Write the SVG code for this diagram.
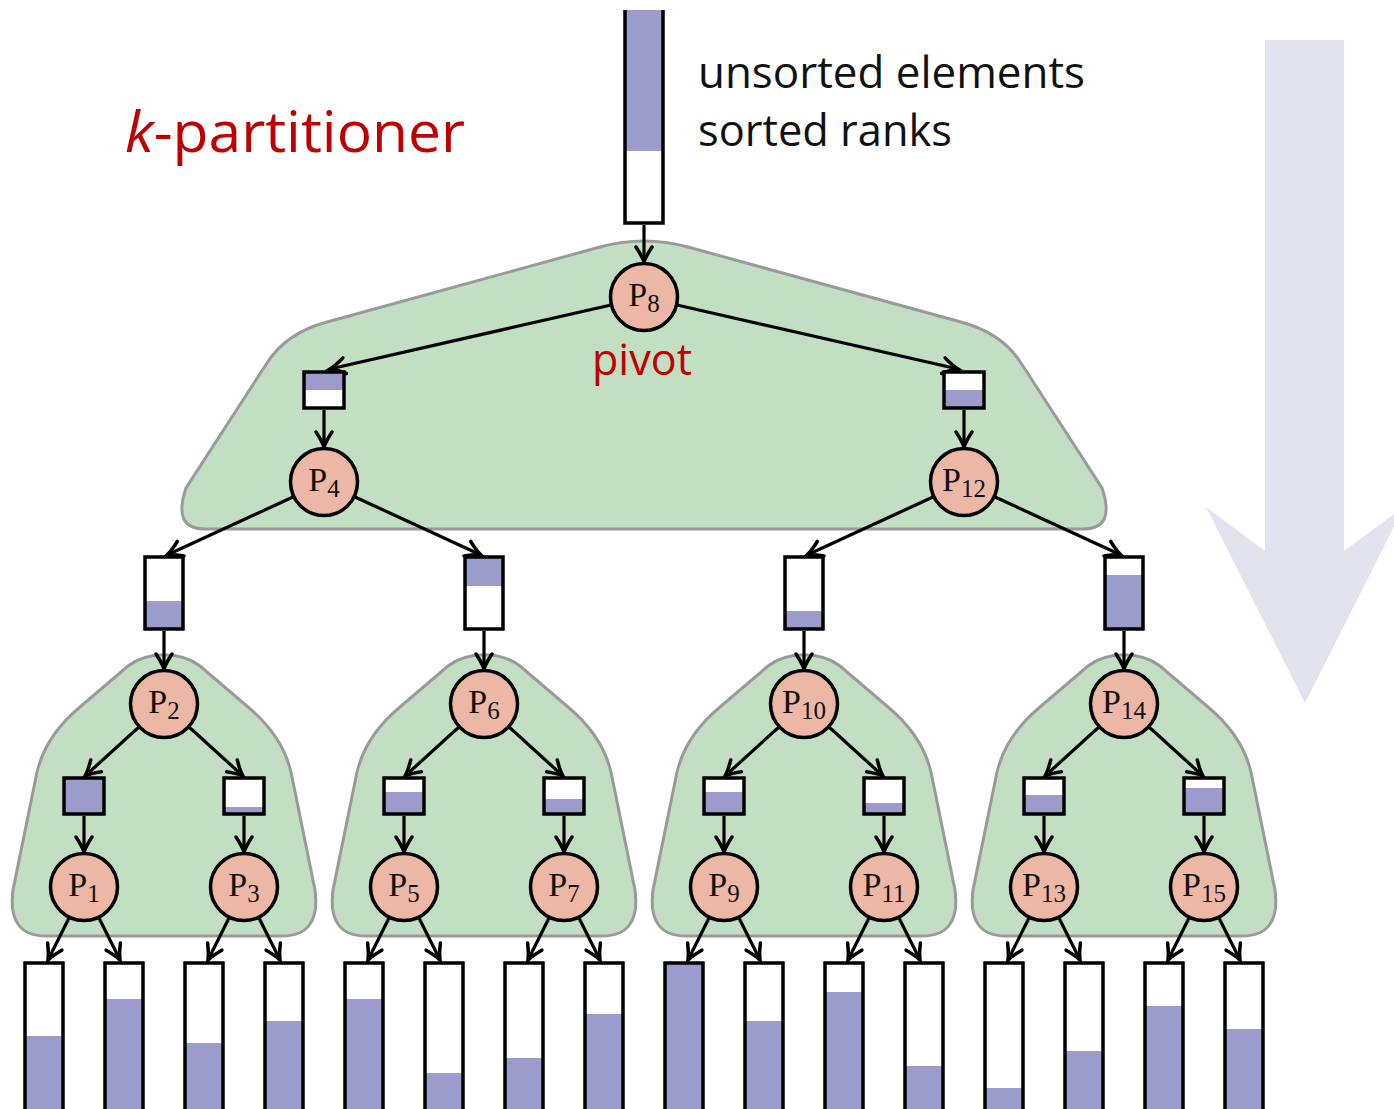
<svg xmlns="http://www.w3.org/2000/svg" xmlns:xlink="http://www.w3.org/1999/xlink" width="1394" height="1109" viewBox="0 0 1394 1109">
<defs>
<style>
.hull{fill:#c3dfc3;stroke:#9a9a9a;stroke-width:3}
.edge{stroke:#000;stroke-width:3.2;fill:none;marker-end:url(#ah)}
.nd{fill:#ecb8a5;stroke:#000;stroke-width:3.5}
.lbl{font-family:"Liberation Serif","DejaVu Serif",serif;font-size:34px;text-anchor:middle;fill:#111}
.sub{font-size:25px}
.bw{fill:#fff}
.pf{fill:#9b9bcc}
.bo{fill:none;stroke:#000;stroke-width:3.5}
.txt{font-family:"Open Sans","Liberation Sans",sans-serif;fill:#111}
.red{font-family:"Open Sans","Liberation Sans",sans-serif;fill:#c00000}
</style>
<marker id="ah" markerUnits="userSpaceOnUse" markerWidth="20" markerHeight="20" refX="0" refY="0" orient="auto" overflow="visible">
<path d="M-15,-8 Q-6,-2 0,0 Q-6,2 -15,8" fill="none" stroke="#000" stroke-width="3.5" stroke-linecap="round" stroke-linejoin="miter"/>
</marker>
<path id="lowhull" class="hull" d="M-36,666 C-16,651 16,651 36,666 L84,707 Q121,738 128,777 L151,890 Q157,936 118,936 L-118,936 Q-157,936 -151,890 L-128,777 Q-121,738 -84,707 Z"/>
</defs>

<rect width="1394" height="1109" fill="#fff"/>

<path id="flow-arrow" d="M1265,40 H1344 V551 L1404,507 L1305,703 L1206,507 L1265,551 Z" fill="#e3e3f0"/>

<text class="red" x="125" y="152" font-size="56" textLength="340" lengthAdjust="spacingAndGlyphs"><tspan font-style="italic">k</tspan>-partitioner</text>
<text class="txt" x="698" y="88" font-size="43" textLength="387" lengthAdjust="spacingAndGlyphs">unsorted elements</text>
<text class="txt" x="698" y="146" font-size="43" textLength="254" lengthAdjust="spacingAndGlyphs">sorted ranks</text>

<g id="hulls">
<path id="hull-top" class="hull" d="M205,529 L1083,529 Q1116,529 1102,488 L1021,363 Q1002,333 961,322 L688,247 Q644,235 600,247 L327,322 Q286,333 267,363 L186,488 Q172,529 205,529 Z"/>
<use xlink:href="#lowhull" href="#lowhull" transform="translate(164,0)"/>
<use xlink:href="#lowhull" href="#lowhull" transform="translate(484,0)"/>
<use xlink:href="#lowhull" href="#lowhull" transform="translate(804,0)"/>
<use xlink:href="#lowhull" href="#lowhull" transform="translate(1124,0)"/>
</g>

<text class="red" x="592" y="375" font-size="43" textLength="100" lengthAdjust="spacingAndGlyphs">pivot</text>

<g id="connectors">
<path class="edge" d="M644,225 L644,262"/>
<path class="edge" d="M611,305 L330,369"/>
<path class="edge" d="M677,305 L958,369"/>
<path class="edge" d="M324,410 L324,447"/>
<path class="edge" d="M964,410 L964,447"/>
<path class="edge" d="M293,497 L167,555"/>
<path class="edge" d="M355,497 L481,555"/>
<path class="edge" d="M933,497 L807,555"/>
<path class="edge" d="M995,497 L1121,555"/>
<path class="edge" d="M164,631 L164,669"/>
<path class="edge" d="M484,631 L484,669"/>
<path class="edge" d="M804,631 L804,669"/>
<path class="edge" d="M1124,631 L1124,669"/>
<path class="edge" d="M139,727 L85,776"/>
<path class="edge" d="M189,727 L243,776"/>
<path class="edge" d="M459,727 L405,776"/>
<path class="edge" d="M509,727 L563,776"/>
<path class="edge" d="M779,727 L725,776"/>
<path class="edge" d="M829,727 L883,776"/>
<path class="edge" d="M1099,727 L1045,776"/>
<path class="edge" d="M1149,727 L1203,776"/>
<path class="edge" d="M84,816 L84,852"/>
<path class="edge" d="M244,816 L244,852"/>
<path class="edge" d="M404,816 L404,852"/>
<path class="edge" d="M564,816 L564,852"/>
<path class="edge" d="M724,816 L724,852"/>
<path class="edge" d="M884,816 L884,852"/>
<path class="edge" d="M1044,816 L1044,852"/>
<path class="edge" d="M1204,816 L1204,852"/>
<path class="edge" d="M69,918 L48,960"/>
<path class="edge" d="M99,918 L120,960"/>
<path class="edge" d="M229,918 L208,960"/>
<path class="edge" d="M259,918 L280,960"/>
<path class="edge" d="M389,918 L368,960"/>
<path class="edge" d="M419,918 L440,960"/>
<path class="edge" d="M549,918 L528,960"/>
<path class="edge" d="M579,918 L600,960"/>
<path class="edge" d="M709,918 L688,960"/>
<path class="edge" d="M739,918 L760,960"/>
<path class="edge" d="M869,918 L848,960"/>
<path class="edge" d="M899,918 L920,960"/>
<path class="edge" d="M1029,918 L1008,960"/>
<path class="edge" d="M1059,918 L1080,960"/>
<path class="edge" d="M1189,918 L1168,960"/>
<path class="edge" d="M1219,918 L1240,960"/>
</g>

<g id="input-bar">
<rect class="bw" x="625" y="10" width="38" height="213"/>
<rect class="pf" x="625" y="10" width="38" height="141"/>
<path class="bo" d="M625,10 V223 H663 V10"/>
</g>

<g id="box-L">
<rect class="bw" x="304" y="372" width="40" height="36"/>
<rect class="pf" x="304" y="372" width="40" height="18"/>
<rect class="bo" x="304" y="372" width="40" height="36"/>
</g>
<g id="box-R">
<rect class="bw" x="944" y="372" width="40" height="36"/>
<rect class="pf" x="944" y="390" width="40" height="18"/>
<rect class="bo" x="944" y="372" width="40" height="36"/>
</g>

<g id="bar-LL">
<rect class="bw" x="145" y="557" width="38" height="72"/>
<rect class="pf" x="145" y="601" width="38" height="28"/>
<rect class="bo" x="145" y="557" width="38" height="72"/>
</g>
<g id="bar-LR">
<rect class="bw" x="465" y="557" width="38" height="72"/>
<rect class="pf" x="465" y="557" width="38" height="29"/>
<rect class="bo" x="465" y="557" width="38" height="72"/>
</g>
<g id="bar-RL">
<rect class="bw" x="785" y="557" width="38" height="72"/>
<rect class="pf" x="785" y="611" width="38" height="18"/>
<rect class="bo" x="785" y="557" width="38" height="72"/>
</g>
<g id="bar-RR">
<rect class="bw" x="1105" y="557" width="38" height="72"/>
<rect class="pf" x="1105" y="575" width="38" height="54"/>
<rect class="bo" x="1105" y="557" width="38" height="72"/>
</g>

<g id="box-1"><rect class="bw" x="64" y="778" width="40" height="36"/><rect class="pf" x="64" y="778" width="40" height="36"/><rect class="bo" x="64" y="778" width="40" height="36"/></g>
<g id="box-3"><rect class="bw" x="224" y="778" width="40" height="36"/><rect class="pf" x="224" y="807" width="40" height="7"/><rect class="bo" x="224" y="778" width="40" height="36"/></g>
<g id="box-5"><rect class="bw" x="384" y="778" width="40" height="36"/><rect class="pf" x="384" y="792" width="40" height="22"/><rect class="bo" x="384" y="778" width="40" height="36"/></g>
<g id="box-7"><rect class="bw" x="544" y="778" width="40" height="36"/><rect class="pf" x="544" y="799" width="40" height="15"/><rect class="bo" x="544" y="778" width="40" height="36"/></g>
<g id="box-9"><rect class="bw" x="704" y="778" width="40" height="36"/><rect class="pf" x="704" y="792" width="40" height="22"/><rect class="bo" x="704" y="778" width="40" height="36"/></g>
<g id="box-11"><rect class="bw" x="864" y="778" width="40" height="36"/><rect class="pf" x="864" y="803" width="40" height="11"/><rect class="bo" x="864" y="778" width="40" height="36"/></g>
<g id="box-13"><rect class="bw" x="1024" y="778" width="40" height="36"/><rect class="pf" x="1024" y="795" width="40" height="19"/><rect class="bo" x="1024" y="778" width="40" height="36"/></g>
<g id="box-15"><rect class="bw" x="1184" y="778" width="40" height="36"/><rect class="pf" x="1184" y="788" width="40" height="26"/><rect class="bo" x="1184" y="778" width="40" height="36"/></g>

<g id="out-bars">
<g id="out-1"><rect class="bw" x="25" y="963" width="38" height="160"/><rect class="pf" x="25" y="1036" width="38" height="90"/><rect class="bo" x="25" y="963" width="38" height="160"/></g>
<g id="out-2"><rect class="bw" x="105" y="963" width="38" height="160"/><rect class="pf" x="105" y="999" width="38" height="130"/><rect class="bo" x="105" y="963" width="38" height="160"/></g>
<g id="out-3"><rect class="bw" x="185" y="963" width="38" height="160"/><rect class="pf" x="185" y="1043" width="38" height="80"/><rect class="bo" x="185" y="963" width="38" height="160"/></g>
<g id="out-4"><rect class="bw" x="265" y="963" width="38" height="160"/><rect class="pf" x="265" y="1021" width="38" height="100"/><rect class="bo" x="265" y="963" width="38" height="160"/></g>
<g id="out-5"><rect class="bw" x="345" y="963" width="38" height="160"/><rect class="pf" x="345" y="999" width="38" height="130"/><rect class="bo" x="345" y="963" width="38" height="160"/></g>
<g id="out-6"><rect class="bw" x="425" y="963" width="38" height="160"/><rect class="pf" x="425" y="1073" width="38" height="50"/><rect class="bo" x="425" y="963" width="38" height="160"/></g>
<g id="out-7"><rect class="bw" x="505" y="963" width="38" height="160"/><rect class="pf" x="505" y="1058" width="38" height="65"/><rect class="bo" x="505" y="963" width="38" height="160"/></g>
<g id="out-8"><rect class="bw" x="585" y="963" width="38" height="160"/><rect class="pf" x="585" y="1014" width="38" height="110"/><rect class="bo" x="585" y="963" width="38" height="160"/></g>
<g id="out-9"><rect class="bw" x="665" y="963" width="38" height="160"/><rect class="pf" x="665" y="963" width="38" height="160"/><rect class="bo" x="665" y="963" width="38" height="160"/></g>
<g id="out-10"><rect class="bw" x="745" y="963" width="38" height="160"/><rect class="pf" x="745" y="1021" width="38" height="100"/><rect class="bo" x="745" y="963" width="38" height="160"/></g>
<g id="out-11"><rect class="bw" x="825" y="963" width="38" height="160"/><rect class="pf" x="825" y="992" width="38" height="130"/><rect class="bo" x="825" y="963" width="38" height="160"/></g>
<g id="out-12"><rect class="bw" x="905" y="963" width="38" height="160"/><rect class="pf" x="905" y="1066" width="38" height="60"/><rect class="bo" x="905" y="963" width="38" height="160"/></g>
<g id="out-13"><rect class="bw" x="985" y="963" width="38" height="160"/><rect class="pf" x="985" y="1088" width="38" height="40"/><rect class="bo" x="985" y="963" width="38" height="160"/></g>
<g id="out-14"><rect class="bw" x="1065" y="963" width="38" height="160"/><rect class="pf" x="1065" y="1051" width="38" height="75"/><rect class="bo" x="1065" y="963" width="38" height="160"/></g>
<g id="out-15"><rect class="bw" x="1145" y="963" width="38" height="160"/><rect class="pf" x="1145" y="1006" width="38" height="120"/><rect class="bo" x="1145" y="963" width="38" height="160"/></g>
<g id="out-16"><rect class="bw" x="1225" y="963" width="38" height="160"/><rect class="pf" x="1225" y="1029" width="38" height="95"/><rect class="bo" x="1225" y="963" width="38" height="160"/></g>
</g>

<g id="P8"><circle class="nd" cx="644" cy="297" r="33.5"/><text class="lbl" x="644" y="306">P<tspan class="sub" dy="6">8</tspan></text></g>
<g id="P4"><circle class="nd" cx="324" cy="482" r="33.5"/><text class="lbl" x="324" y="491">P<tspan class="sub" dy="6">4</tspan></text></g>
<g id="P12"><circle class="nd" cx="964" cy="482" r="33.5"/><text class="lbl" x="964" y="491">P<tspan class="sub" dy="6">12</tspan></text></g>
<g id="P2"><circle class="nd" cx="164" cy="704" r="33.5"/><text class="lbl" x="164" y="713">P<tspan class="sub" dy="6">2</tspan></text></g>
<g id="P6"><circle class="nd" cx="484" cy="704" r="33.5"/><text class="lbl" x="484" y="713">P<tspan class="sub" dy="6">6</tspan></text></g>
<g id="P10"><circle class="nd" cx="804" cy="704" r="33.5"/><text class="lbl" x="804" y="713">P<tspan class="sub" dy="6">10</tspan></text></g>
<g id="P14"><circle class="nd" cx="1124" cy="704" r="33.5"/><text class="lbl" x="1124" y="713">P<tspan class="sub" dy="6">14</tspan></text></g>
<g id="P1"><circle class="nd" cx="84" cy="887" r="33.5"/><text class="lbl" x="84" y="896">P<tspan class="sub" dy="6">1</tspan></text></g>
<g id="P3"><circle class="nd" cx="244" cy="887" r="33.5"/><text class="lbl" x="244" y="896">P<tspan class="sub" dy="6">3</tspan></text></g>
<g id="P5"><circle class="nd" cx="404" cy="887" r="33.5"/><text class="lbl" x="404" y="896">P<tspan class="sub" dy="6">5</tspan></text></g>
<g id="P7"><circle class="nd" cx="564" cy="887" r="33.5"/><text class="lbl" x="564" y="896">P<tspan class="sub" dy="6">7</tspan></text></g>
<g id="P9"><circle class="nd" cx="724" cy="887" r="33.5"/><text class="lbl" x="724" y="896">P<tspan class="sub" dy="6">9</tspan></text></g>
<g id="P11"><circle class="nd" cx="884" cy="887" r="33.5"/><text class="lbl" x="884" y="896">P<tspan class="sub" dy="6">11</tspan></text></g>
<g id="P13"><circle class="nd" cx="1044" cy="887" r="33.5"/><text class="lbl" x="1044" y="896">P<tspan class="sub" dy="6">13</tspan></text></g>
<g id="P15"><circle class="nd" cx="1204" cy="887" r="33.5"/><text class="lbl" x="1204" y="896">P<tspan class="sub" dy="6">15</tspan></text></g>
</svg>
